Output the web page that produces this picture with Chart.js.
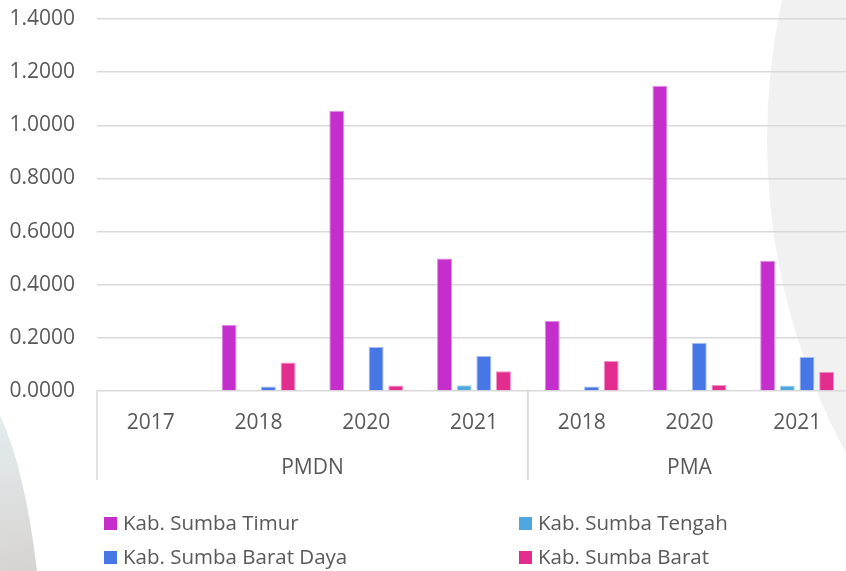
<!DOCTYPE html>
<html>
<head>
<meta charset="utf-8">
<script src="https://cdn.jsdelivr.net/npm/chart.js@4/dist/chart.umd.min.js"></script>
<style>
html,body{margin:0;padding:0;background:#fff;overflow:hidden;width:846px;height:571px;}
#wrap{position:relative;width:854px;height:571px;}
#legend{position:absolute;left:104px;top:511px;width:740px;display:grid;grid-template-columns:415px 300px;row-gap:11px;
    font-family:"Open Sans","Noto Sans",sans-serif;font-size:20.5px;color:#595959;}
#legend span.sw{display:inline-block;width:13px;height:13px;margin-right:6px;vertical-align:0px;}
#legend div{white-space:nowrap;line-height:23px;}
</style>
</head>
<body>
<div id="wrap">
<canvas id="c" width="854" height="571"></canvas>
<div id="legend"></div>
</div>
<script>
/* ---- data ---- */
const years = ["2017","2018","2020","2021","2018","2020","2021"];
const groups = ["PMDN","PMA"];
const groupSizes = [4,3];
const seriesNames = ["Kab. Sumba Timur","Kab. Sumba Tengah","Kab. Sumba Barat Daya","Kab. Sumba Barat"];
const sumbaTimur     = [0, 0.249, 1.055, 0.499, 0.263, 1.148, 0.489];
const sumbaTengah    = [0, 0,     0,     0.022, 0,     0,     0.021];
const sumbaBaratDaya = [0, 0.017, 0.166, 0.132, 0.017, 0.181, 0.128];
const sumbaBarat     = [0, 0.107, 0.021, 0.074, 0.113, 0.023, 0.072];
const yTicks = [0,0.2,0.4,0.6,0.8,1.0,1.2,1.4];

const colors = ["#C42ECB","#4EA7DE","#4677E4","#E22D8E"];
const borders = ["#E08AE6","#A9D3F0","#A5BCF2","#F195C6"];
const TXT = "#595959", GRID = "#D9D9D9";
const font = "'Open Sans','Noto Sans',sans-serif";

/* ---- background shapes + group labels ---- */
const deco = {
    id:"deco",
    beforeDraw(ch){
        const c=ch.ctx;
        c.save();
        c.fillStyle="#F1F1F1";
        c.beginPath();c.arc(1428,140,661,0,Math.PI*2);c.fill();
        const g=c.createLinearGradient(0,420,40,571);
        g.addColorStop(0,"#E4ECEE");g.addColorStop(1,"#D6D3D0");
        c.fillStyle=g;
        c.beginPath();c.moveTo(0,415);c.quadraticCurveTo(25,470,37,571);c.lineTo(0,571);c.closePath();c.fill();
        c.restore();
    },
    afterDraw(ch){
        const c=ch.ctx, x=ch.scales.x, area=ch.chartArea;
        const half=(x.getPixelForValue(1)-x.getPixelForValue(0))/2;
        c.save();
        c.strokeStyle=GRID;c.lineWidth=1.5;
        c.fillStyle=TXT;c.font="21px "+font;c.textAlign="center";c.textBaseline="middle";
        let start=0;
        groups.forEach((name,i)=>{
            const l=x.getPixelForValue(start)-half, r=x.getPixelForValue(start+groupSizes[i]-1)+half;
            c.beginPath();c.moveTo(l,area.bottom);c.lineTo(l,480);c.stroke();
            c.beginPath();c.moveTo(r,area.bottom);c.lineTo(r,480);c.stroke();
            c.fillText(name,(l+r)/2,468);
            start+=groupSizes[i];
        });
        c.restore();
    }
};

const data=[sumbaTimur,sumbaTengah,sumbaBaratDaya,sumbaBarat];
new Chart(document.getElementById("c"),{
    type:"bar",
    data:{
        labels:years,
        datasets:data.map((d,i)=>({label:seriesNames[i],data:d,backgroundColor:colors[i],borderColor:borders[i],
            borderWidth:{top:1,left:1,right:1,bottom:0},categoryPercentage:0.73,barPercentage:0.76}))
    },
    options:{
        responsive:false,animation:false,
        layout:{padding:{top:19,left:0,right:3,bottom:0}},
        plugins:{legend:{display:false},tooltip:{enabled:false}},
        scales:{
            x:{
                grid:{display:false},border:{display:false},
                ticks:{color:TXT,font:{family:font,size:21},padding:11,maxRotation:0,autoSkip:false},
                afterFit:s=>{s.height=180;s.paddingTop=0;s.paddingBottom=0;}
            },
            y:{
                min:0,max:1.4,
                afterBuildTicks:s=>{s.ticks=yTicks.map(v=>({value:v}));},
                grid:{color:GRID,lineWidth:1.5,drawTicks:false},border:{display:false},
                ticks:{color:TXT,font:{family:font,size:21},padding:22,callback:v=>v.toFixed(4)},
                afterFit:s=>{s.width=97;s.paddingTop=0;s.paddingBottom=0;}
            }
        }
    },
    plugins:[deco]
});

/* ---- legend ---- */
const lg=document.getElementById("legend");
seriesNames.forEach((n,i)=>{
    const d=document.createElement("div");
    d.innerHTML=`<span class="sw" style="background:${colors[i]}"></span>${n}`;
    lg.appendChild(d);
});
</script>
</body>
</html>
